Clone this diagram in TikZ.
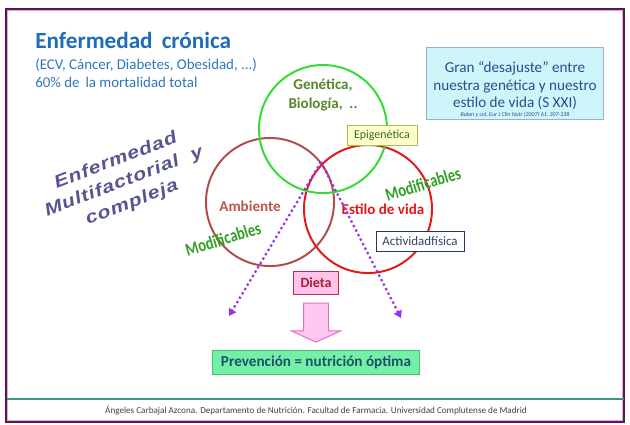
\documentclass[tikz,border=0pt]{standalone}
\usepackage{fontspec}
\setmainfont{Carlito}
\newfontfamily\wordart[FakeStretch=1.2, LetterSpace=5]{Liberation Sans}
\newfontfamily\condensada[FakeStretch=0.8]{Carlito}
\usepackage{xcolor}
\usetikzlibrary{positioning, shapes.arrows, arrows.meta}
\definecolor{marcocolor}{RGB}{85,25,85}
\definecolor{marcorosa}{RGB}{225,170,215}
\definecolor{piecolor}{RGB}{70,145,135}
\definecolor{titulocolor}{RGB}{31,108,185}
\definecolor{subcolor}{RGB}{46,117,190}
\definecolor{gencolor}{RGB}{50,220,50}
\definecolor{gentexto}{RGB}{85,135,40}
\definecolor{ambcolor}{RGB}{180,75,75}
\definecolor{ambtexto}{RGB}{192,80,77}
\definecolor{estcolor}{RGB}{225,25,25}
\definecolor{epifill}{RGB}{255,255,200}
\definecolor{epiborde}{RGB}{160,195,80}
\definecolor{epitexto}{RGB}{55,105,45}
\definecolor{actborde}{RGB}{35,55,100}
\definecolor{acttexto}{RGB}{55,65,105}
\definecolor{dietafill}{RGB}{255,195,235}
\definecolor{dietaborde}{RGB}{190,45,70}
\definecolor{dietatexto}{RGB}{170,30,50}
\definecolor{flechafill}{RGB}{255,200,242}
\definecolor{flechaborde}{RGB}{230,110,190}
\definecolor{prevfill}{RGB}{115,240,165}
\definecolor{prevborde}{RGB}{80,190,110}
\definecolor{prevtexto}{RGB}{30,80,110}
\definecolor{granfill}{RGB}{205,245,250}
\definecolor{granborde}{RGB}{150,180,200}
\definecolor{grantexto}{RGB}{45,75,145}
\definecolor{puntocolor}{RGB}{150,50,240}
\definecolor{modifcolor}{RGB}{50,160,40}
\definecolor{multicolor}{RGB}{85,85,145}
\tikzset{
  circulo/.style={circle, draw=#1, line width=1.4pt, minimum size=3.2cm,
                  inner sep=0pt},
  etiqueta/.style={font=\bfseries\fontsize{10.7}{13}\selectfont, align=center},
  caja/.style={rectangle, draw=#1, line width=0.7pt, inner sep=0pt,
               align=center},
  modif/.style={font=\condensada\bfseries\fontsize{13}{14}\selectfont,
                text=modifcolor, rotate=17},
  puntos/.style={dotted, line width=1.6pt, draw=puntocolor,
                 -{Triangle[length=5pt, width=6pt]}},
}

\begin{document}
\begin{tikzpicture}[x=0.025cm, y=-0.025cm]
  \useasboundingbox (0,0) rectangle (630,424);

  % --- Marco ---
  \draw[marcocolor, line width=1pt] (6,9) rectangle (624,422);
  \draw[marcorosa, line width=0.5pt] (7.5,10.5) rectangle (622.5,420.5);
  \draw[piecolor, line width=1pt] (6.5,399) -- (623.5,399);

  % --- Titulo ---
  \node[anchor=base west, inner sep=0pt, text=titulocolor,
        font=\bfseries\fontsize{16.5}{19}\selectfont]
    (titulo) at (35,48) {Enfermedad\, crónica};
  \node[anchor=base west, inner sep=0pt, text=subcolor,
        font=\fontsize{10.6}{12}\selectfont]
    (sub1) at (35,69) {(ECV, Cáncer, Diabetes, Obesidad, ...)};
  \node[anchor=base west, inner sep=0pt, text=subcolor,
        font=\fontsize{10.6}{12}\selectfont]
    (sub2) at (35,87) {60\% de\, la mortalidad total};

  % --- Circulos ---
  \node[circulo=ambcolor] (camb) at (270,202) {};
  \node[circulo=estcolor] (cest) at (368,209) {};
  \node[circulo=gencolor] (cgen) at (323,129) {};

  \node[etiqueta, text=gentexto] (genetica) at (323,95)
    {Genética,\\Biología,\ \ ..};
  \node[etiqueta, text=ambtexto] (ambiente) at (250,206) {Ambiente};
  \node[etiqueta, text=estcolor] (estilo) at (383,209) {Estilo de vida};

  \node[caja=epiborde, fill=epifill, text=epitexto,
        minimum width=1.75cm, minimum height=0.5cm,
        font=\fontsize{8.5}{10}\selectfont]
    (epig) at (382,135) {Epigenética};
  \node[caja=actborde, fill=white, text=acttexto,
        minimum width=2.2cm, minimum height=0.5cm,
        font=\fontsize{9.2}{10}\selectfont]
    (activ) at (420,241) {Actividadfísica};

  \node[modif] (modder) at (423,184) {Modificables};
  \node[modif] (modizq) at (223,239) {Modificables};

  \node[font=\wordart\bfseries\itshape\fontsize{12.5}{16}\selectfont,
        text=multicolor, align=center, rotate=21]
    (multi) at (124,182)
    {Enfermedad\\Multifactorial\ \ y\\compleja};

  % --- Cuadro derecho ---
  \node[caja=granborde, fill=granfill, text=grantexto,
        minimum width=4.425cm, minimum height=1.8cm,
        font=\fontsize{10.8}{12.6}\selectfont]
    (gran) at (515,83)
    {\rule{0pt}{17pt}Gran “desajuste” entre\\nuestra genética y nuestro\\
     estilo de vida (S XXI)\\[-6.5pt]
     {\fontsize{4.2}{5}\selectfont\itshape Balan y col, Eur J Clin Nutr (2007) 61, 307-338}};

  % --- Dieta y prevencion ---
  \node[caja=dietaborde, fill=dietafill, text=dietatexto,
        minimum width=1.125cm, minimum height=0.575cm,
        font=\bfseries\fontsize{10}{11}\selectfont]
    (dieta) at (316,283) {Dieta};
  \node[single arrow, shape border rotate=270, draw=flechaborde,
        fill=flechafill, line width=0.7pt, inner sep=0.3cm,
        minimum width=1.2cm, minimum height=0.975cm,
        single arrow head extend=0.3cm, single arrow tip angle=131,
        below=0.19cm of dieta]
    (bajada) {};
  \node[caja=prevborde, fill=prevfill, text=prevtexto,
        minimum width=5.15cm, minimum height=0.6cm,
        font=\bfseries\fontsize{10.8}{12}\selectfont,
        below=0.175cm of bajada]
    (prev) {Prevención = nutrición óptima};

  % --- Flechas punteadas ---
  \coordinate (cruce) at (321,162);
  \coordinate (finizq) at (229,316);
  \coordinate (finder) at (401,318);
  \draw[puntos] (cruce) -- (finizq);
  \draw[puntos] (cruce) -- (finder);

  % --- Pie ---
  \node[text=black!75, font=\fontsize{6.5}{8}\selectfont]
    (pie) at (316,410) {Ángeles Carbajal Azcona. Departamento de Nutrición. Facultad de Farmacia. Universidad Complutense de Madrid};

\end{tikzpicture}
\end{document}
